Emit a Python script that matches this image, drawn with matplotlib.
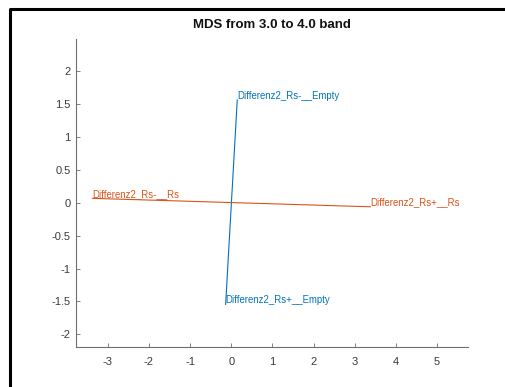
import matplotlib
matplotlib.use('Agg')
import matplotlib.pyplot as plt
from matplotlib.lines import Line2D

plt.rcParams['font.family'] = ['Liberation Sans', 'DejaVu Sans']

# MDS coordinates
rs_x = [-3.37, 3.38]
rs_y = [0.064, -0.064]
rs_labels = ['Differenz2_Rs-__Rs', 'Differenz2_Rs+__Rs']

empty_x = [0.146, -0.136]
empty_y = [1.555, -1.545]
empty_labels = ['Differenz2_Rs-__Empty', 'Differenz2_Rs+__Empty']

xticks = [-3, -2, -1, 0, 1, 2, 3, 4, 5]
yticks = [-2, -1.5, -1, -0.5, 0, 0.5, 1, 1.5, 2]

blue = '#0072BD'
orange = '#D95319'
axcol = '#6e6e6e'


def main():
    fig = plt.figure(figsize=(5.06, 3.87), dpi=100)
    ax = fig.add_axes([76 / 506, 40 / 387, 392 / 506, 308 / 387])

    ax.plot(empty_x, empty_y, color=blue, lw=0.8)
    ax.plot(rs_x, rs_y, color=orange, lw=0.8)

    for x, y, s in zip(empty_x, empty_y, empty_labels):
        ax.annotate(s, (x, y), xytext=(0, 3), textcoords='offset points',
                    ha='left', va='center', fontsize=6.9, color=blue)
    for x, y, s in zip(rs_x, rs_y, rs_labels):
        ax.annotate(s, (x, y), xytext=(0, 3), textcoords='offset points',
                    ha='left', va='center', fontsize=6.9, color=orange)

    ax.set_xlim(-3.77, 5.75)
    ax.set_ylim(-2.19, 2.48)
    ax.set_xticks(xticks)
    ax.set_yticks(yticks)
    ax.set_xticklabels([str(t) for t in xticks])
    ax.set_yticklabels(['%g' % t for t in yticks])

    for side in ['top', 'right']:
        ax.spines[side].set_visible(False)
    for side in ['left', 'bottom']:
        ax.spines[side].set_color(axcol)
        ax.spines[side].set_linewidth(0.8)
    ax.tick_params(direction='in', length=3, width=0.6, color=axcol,
                   labelcolor='#3a3a3a', labelsize=8)
    ax.tick_params(axis='x', pad=7)
    ax.tick_params(axis='y', pad=4)

    ax.set_title('MDS from 3.0 to 4.0 band', fontsize=9.5, fontweight='bold',
                 color='#111111', pad=8)

    # black frame from the screenshot (left and top edges)
    fig.add_artist(Line2D([10 / 506, 10 / 506, 1.0], [0.0, 1 - 9 / 387, 1 - 9 / 387],
                          transform=fig.transFigure, color='black', lw=2.2))

    fig.savefig('out.png', dpi=100)


if __name__ == "__main__":
    main()
